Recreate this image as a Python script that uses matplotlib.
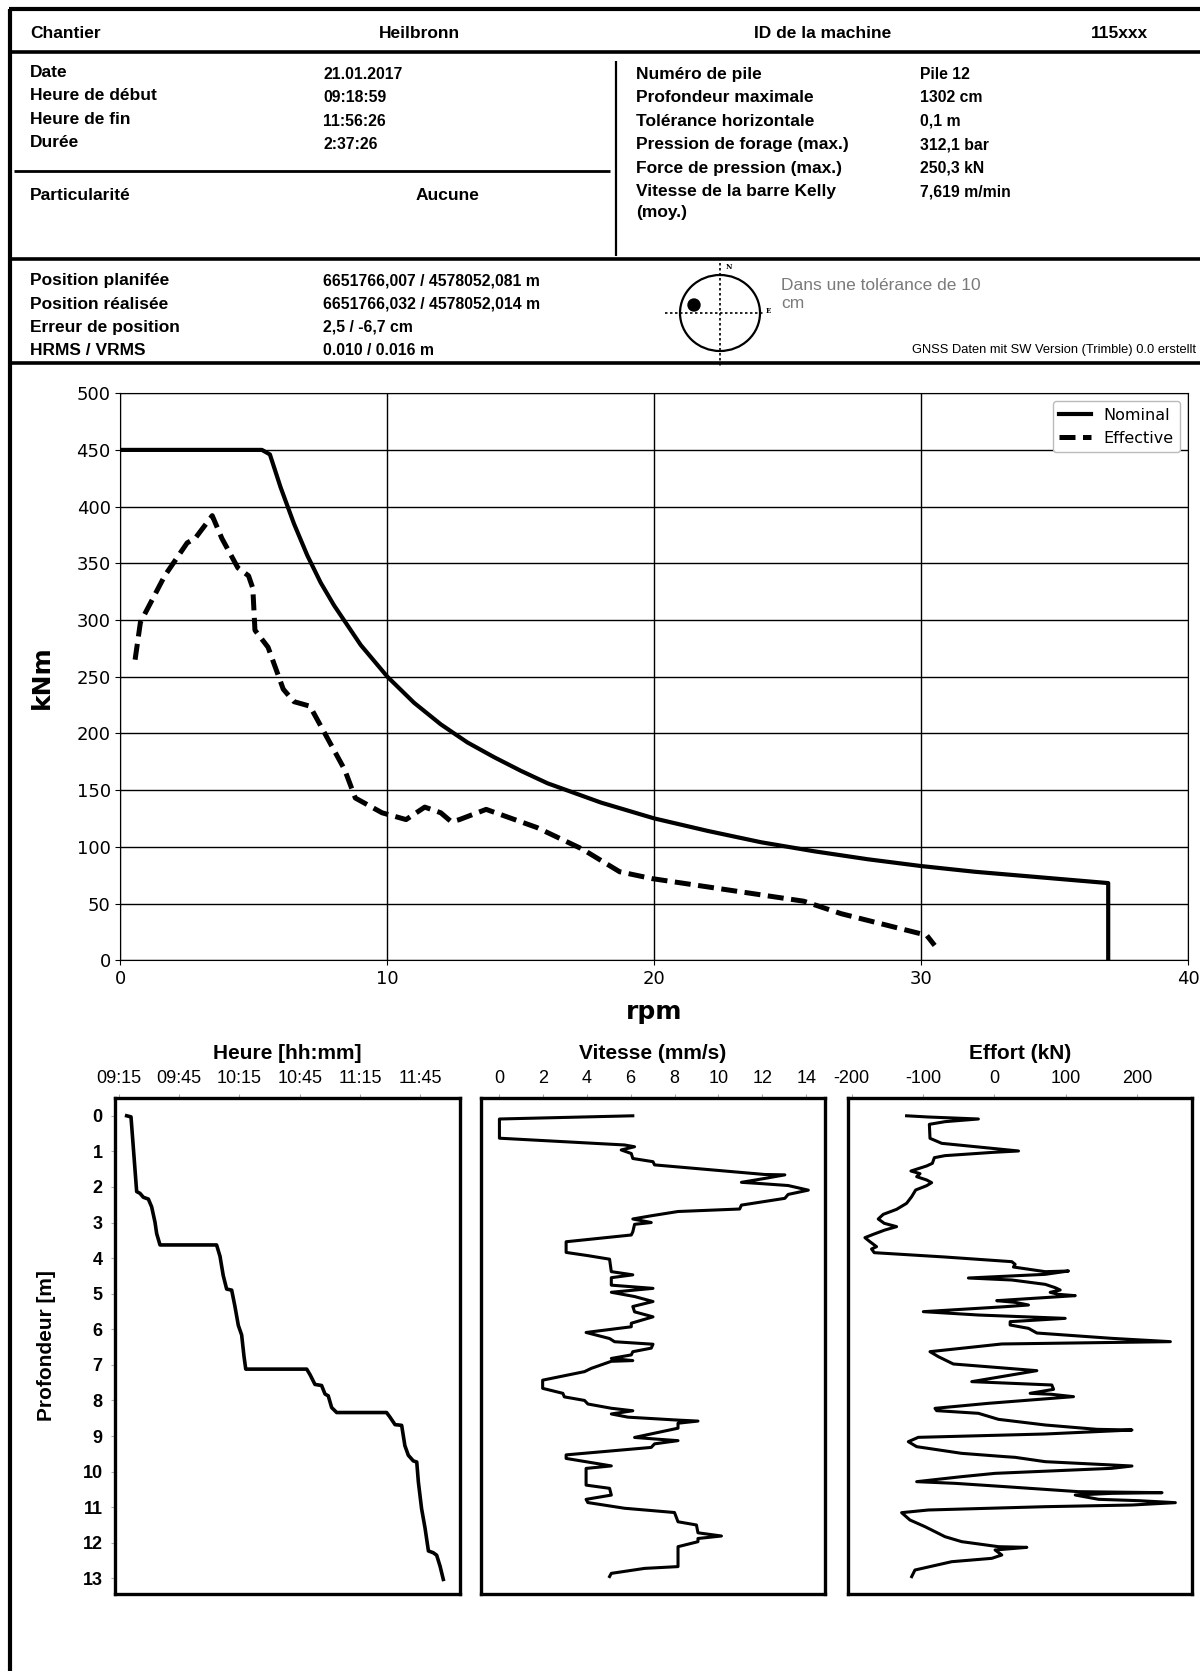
import matplotlib
matplotlib.use("Agg")
import matplotlib.pyplot as plt
from matplotlib import font_manager
from matplotlib.patches import Ellipse, Circle

# ---------------- data ----------------
site_label, site_value = "Chantier", "Heilbronn"
machine_label, machine_value = "ID de la machine", "115xxx"
left_labels = ["Date", "Heure de début", "Heure de fin", "Durée"]
left_values = ["21.01.2017", "09:18:59", "11:56:26", "2:37:26"]
special_label, special_value = "Particularité", "Aucune"
right_labels = ["Numéro de pile", "Profondeur maximale", "Tolérance horizontale",
                "Pression de forage (max.)", "Force de pression (max.)",
                "Vitesse de la barre Kelly", "(moy.)"]
right_values = ["Pile 12", "1302 cm", "0,1 m", "312,1 bar", "250,3 kN", "7,619 m/min"]
pos_labels = ["Position planifée", "Position réalisée", "Erreur de position", "HRMS / VRMS"]
pos_values = ["6651766,007 / 4578052,081 m", "6651766,032 / 4578052,014 m",
              "2,5 / -6,7 cm", "0.010 / 0.016 m"]
tol_text = "Dans une tolérance de 10\ncm"
gnss_text = "GNSS Daten mit SW Version (Trimble) 0.0 erstellt"

nominal_rpm = [0, 5.3, 5.6, 6, 6.5, 7, 7.5, 8, 9, 10, 11, 12, 13, 14, 15, 16, 18, 20,
               22, 24, 26, 28, 30, 32, 34, 36, 37, 37]
nominal_knm = [450, 450, 446, 417, 385, 357, 333, 313, 278, 250, 227, 208, 192, 179, 167,
               156, 139, 125, 114, 104, 96, 89, 83, 78, 74, 70, 68, 0]
effective_rpm = [0.55, 0.75, 1.66, 2.5, 2.8, 3.44, 3.8, 4.4, 4.8, 4.96, 5.04, 5.53, 6.1,
                 6.5, 7.1, 8.4, 8.8, 9.8, 10.7, 11.4, 12.0, 12.4, 12.7, 13.7, 15.6, 17.3,
                 18.7, 19.9, 25.6, 27.0, 30.2, 30.5]
effective_knm = [265, 298, 339, 368, 372, 392, 372, 346, 339, 328, 291, 276, 239, 228, 224,
                 168, 143, 130, 124, 135, 130, 122, 124, 133, 117, 98, 78, 72, 52, 41, 22, 13]

# minutes after 09:15
time_min = [4.0, 6.15, 8.97, 10.62, 12.28, 14.77, 16.42, 18.08, 18.91, 20.57, 48.7, 50.4,
            52.0, 53.7, 56.2, 57.8, 59.5, 61.16, 62.3, 63.2, 93.5, 95.2, 97.6, 100.9, 102.6,
            104.2, 105.9, 108.4, 133.2, 134.9, 137.4, 140.7, 142.3, 144.0, 146.5, 148.2,
            149.0, 150.6, 152.3, 154.0, 156.4, 158.1, 159.8, 161.4]
time_depth = [0.0, 0.03, 2.13, 2.18, 2.29, 2.34, 2.56, 2.99, 3.31, 3.63, 3.63, 3.95, 4.49,
              4.87, 4.9, 5.35, 5.89, 6.16, 6.75, 7.12, 7.12, 7.28, 7.55, 7.58, 7.82, 7.87,
              8.2, 8.34, 8.34, 8.47, 8.68, 8.7, 9.27, 9.54, 9.7, 9.73, 10.29, 11.04, 11.58,
              12.23, 12.28, 12.35, 12.66, 13.03]
time_ticks = [0, 30, 60, 90, 120, 150]
time_labels = ["09:15", "09:45", "10:15", "10:45", "11:15", "11:45"]

speed = [6.1, 0.02, 0.02, 5.72, 6.18, 5.57, 6.03, 6.1, 7.02, 7.09, 12.12, 13.03, 12.12,
         11.05, 11.81, 13.18, 14.1, 13.18, 13.03, 11.05, 10.97, 8.16, 6.94, 6.1, 6.94, 6.18,
         6.1, 6.03, 3.06, 3.06, 4.05, 5.04, 5.12, 6.1, 5.12, 5.12, 7.02, 5.12, 6.18, 7.02,
         6.1, 6.18, 7.02, 6.03, 6.03, 3.97, 5.04, 5.27, 7.02, 6.94, 6.1, 6.03, 5.12, 6.1,
         5.12, 4.2, 3.9, 1.99, 1.99, 2.91, 2.98, 3.9, 4.05, 5.12, 6.1, 5.12, 5.88, 8.08,
         9.07, 8.16, 8.16, 6.18, 7.25, 8.16, 7.09, 6.94, 3.06, 3.06, 5.12, 3.97, 3.97, 5.04,
         5.12, 3.97, 4.05, 5.72, 8.0, 8.16, 9.0, 9.07, 10.14, 9.07, 9.07, 8.16, 8.16, 6.64,
         5.12, 5.04]
speed_depth = [0.0, 0.09, 0.63, 0.82, 0.87, 0.96, 1.06, 1.2, 1.29, 1.38, 1.65, 1.66, 1.76,
               1.87, 1.9, 1.96, 2.09, 2.21, 2.32, 2.51, 2.62, 2.69, 2.81, 2.9, 3.0, 3.05,
               3.26, 3.35, 3.54, 3.84, 3.93, 4.03, 4.38, 4.47, 4.55, 4.76, 4.85, 4.96, 5.08,
               5.22, 5.36, 5.51, 5.65, 5.83, 5.93, 6.09, 6.26, 6.35, 6.42, 6.53, 6.63, 6.72,
               6.82, 6.88, 6.9, 7.1, 7.19, 7.43, 7.66, 7.8, 7.9, 8.0, 8.1, 8.22, 8.29, 8.38,
               8.47, 8.55, 8.58, 8.64, 8.78, 9.04, 9.09, 9.13, 9.22, 9.32, 9.53, 9.63, 9.84,
               9.91, 10.38, 10.47, 10.66, 10.78, 10.87, 11.03, 11.15, 11.41, 11.5, 11.72,
               11.81, 11.88, 11.97, 12.11, 12.67, 12.72, 12.86, 12.95]
speed_ticks = [0, 2, 4, 6, 8, 10, 12, 14]

force = [-122.9, -92.4, -22.3, -69.1, -91.0, -90.1, -73.7, -3.6, 33.9, -1.2, -69.1, -84.0,
         -86.8, -94.8, -116.8, -104.1, -108.8, -94.8, -87.8, -94.8, -110.2, -115.8, -122.9,
         -136.9, -155.6, -162.6, -154.2, -136.9, -153.3, -169.6, -181.3, -174.3, -165.0,
         -172.0, -168.2, -69.1, 24.5, 29.2, 26.8, 71.3, 104.0, 71.3, -36.3, 24.5, 71.3, 85.3,
         92.3, 78.3, 90.0, 113.4, 3.4, 29.2, 47.9, 15.1, -99.5, -22.3, 99.3, 22.2, 22.2,
         47.9, 59.6, 164.8, 246.7,
         10.5, -90.1, -78.4, -57.4, 1.1, 59.6, -31.6, 80.6, 83.0, 50.2, 80.6, 111.0, 80.6,
         -8.2, -83.1, -80.8, -22.3, 5.8, 71.3, 143.8, 192.9, 71.3, -106.5, -120.5, -108.8,
         -45.7, 15.1, 29.2, 71.3, 164.8, 192.9, 164.8, 1.1, -45.7, -108.8, -55.0, 15.1,
         118.1, 235.0, 164.8, 113.4, 146.1, 202.3, 253.7, 192.9, 71.3, -92.4, -129.9,
         -118.2, -97.1, -83.1, -69.1, -45.7, 5.8, 45.6, 1.1, 10.5, -3.6, -59.7, -111.2,
         -115.8]
force_depth = [0.0, 0.034, 0.09, 0.165, 0.24, 0.633, 0.774, 0.914, 0.989, 1.027, 1.12, 1.177,
               1.336, 1.41, 1.552, 1.626, 1.711, 1.804, 1.879, 1.964, 2.086, 2.273, 2.46,
               2.629, 2.77, 2.9, 3.022, 3.116, 3.21, 3.332, 3.425, 3.538, 3.678, 3.744, 3.847,
               3.969, 4.1, 4.175, 4.25, 4.381, 4.362, 4.456, 4.559, 4.615, 4.737, 4.831,
               4.896, 4.962, 5.018, 5.055, 5.196, 5.243, 5.318, 5.365, 5.505, 5.599, 5.693,
               5.786, 5.88, 5.974, 6.105, 6.255, 6.348,
               6.413, 6.629, 6.769, 6.976, 7.069, 7.163, 7.472, 7.566, 7.688, 7.8, 7.828,
               7.894, 7.941, 8.081, 8.222, 8.287, 8.362, 8.531, 8.69, 8.812, 8.831, 8.943,
               9.037, 9.159, 9.299, 9.487, 9.58, 9.599, 9.721, 9.814, 9.843, 9.908, 10.049,
               10.142, 10.283, 10.33, 10.423, 10.564, 10.592, 10.611, 10.658, 10.779, 10.817,
               10.873, 10.939, 10.986, 11.079, 11.154, 11.36, 11.548, 11.688, 11.829, 11.969,
               12.11, 12.129, 12.203, 12.344, 12.438, 12.532, 12.766, 12.953]
force_ticks = [-200, -100, 0, 100, 200]
force_labels = ["-200", "-100", "0", "100", "200"]
depth_ticks = list(range(0, 14))

# ---------------- figure ----------------
names = {f.name for f in font_manager.fontManager.ttflist}
SANS = "Liberation Sans" if "Liberation Sans" in names else "DejaVu Sans"

W, H = 1200, 1671
fig = plt.figure(figsize=(W / 100, H / 100), dpi=100)
bg = fig.add_axes([0, 0, 1, 1], zorder=0)
bg.set_xlim(0, W)
bg.set_ylim(H, 0)
bg.axis("off")


def hline(y, x0, x1, lw=2.2):
    bg.plot([x0, x1], [y, y], color="black", lw=lw, solid_capstyle="butt")


def vline(x, y0, y1, lw=2.2):
    bg.plot([x, x], [y0, y1], color="black", lw=lw, solid_capstyle="butt")


def txt(x, y, s, size=12.5, weight="bold", ha="left", color="black"):
    return bg.text(x, y, s, fontsize=size, fontweight=weight, family=SANS, ha=ha,
                   va="center", color=color)


# frame and header lines
vline(10, 9, H, lw=3)
hline(9, 9, W, lw=3)
hline(52, 9, W, lw=2.6)
hline(171, 14, 610, lw=2.0)
vline(616, 61, 256, lw=1.6)
hline(259, 9, W, lw=2.6)
hline(363, 9, W, lw=2.6)

# header texts
txt(30, 33, site_label)
txt(419, 33, site_value, ha="center")
txt(823, 33, machine_label, ha="center")
txt(1119, 33, machine_value, ha="center")
for i, (lab, val) in enumerate(zip(left_labels, left_values)):
    y = 72.5 + i * 23.4
    txt(30, y, lab)
    txt(323, y + 2, val, size=11.3)
txt(30, 195, special_label)
txt(448, 195, special_value, ha="center")
for i, lab in enumerate(right_labels):
    y = 74.6 + i * 23.4 if i < 6 else 213
    txt(636, y, lab)
for i, val in enumerate(right_values):
    txt(920, 74.6 + i * 23.4, val, size=11.3)
for i, (lab, val) in enumerate(zip(pos_labels, pos_values)):
    y = 281 + i * 23.2
    txt(30, y, lab)
    txt(323, y, val, size=11.3)
t = txt(781, 294, tol_text, size=12.5, weight="normal", color="#7a7a7a")
t.set_linespacing(1.25)
txt(1196, 350, gnss_text, size=9.3, weight="normal", ha="right")

# tolerance target
bg.add_patch(Ellipse((720, 313), 80, 76, fill=False, ec="black", lw=1.6))
bg.plot([720, 720], [263, 367], color="black", lw=1.2, ls=(0, (1.5, 1.5)))
bg.plot([665, 765], [313, 313], color="black", lw=1.2, ls=(0, (1.5, 1.5)))
bg.add_patch(Circle((694, 305), 6, color="black"))
bg.text(726, 267, "N", fontsize=5, family="DejaVu Serif", fontweight="bold", va="center")
bg.text(766, 311, "E", fontsize=5, family="DejaVu Serif", fontweight="bold", va="center")

# ---------------- main chart ----------------
ax = fig.add_axes([120.4 / W, 1 - 960.2 / H, 1067.9 / W, 567 / H], zorder=1)
ax.plot(nominal_rpm, nominal_knm, color="black", lw=3, label="Nominal",
        solid_joinstyle="round")
ax.plot(effective_rpm, effective_knm, color="black", lw=3.6, ls=(0, (3.2, 1.5)),
        label="Effective")
ax.set_xlim(0, 40)
ax.set_ylim(0, 500)
ax.set_xticks([0, 10, 20, 30, 40])
ax.set_yticks(list(range(0, 501, 50)))
ax.grid(True, color="black", lw=1.0)
ax.tick_params(labelsize=13)
for lab in ax.get_xticklabels() + ax.get_yticklabels():
    lab.set_family("DejaVu Sans")
ax.set_ylabel("kNm", fontsize=18, fontweight="bold", family="DejaVu Sans")
ax.yaxis.set_label_coords(-0.062, 0.5)
ax.set_xlabel("rpm", fontsize=18, fontweight="bold", family="DejaVu Sans")
ax.xaxis.set_label_coords(0.5, -0.07)
leg = ax.legend(loc="upper right", prop={"family": "DejaVu Sans", "size": 11.5},
                framealpha=1, edgecolor="#bbbbbb")

# ---------------- bottom panels ----------------
ptop, pbot = 1098, 1594
prect_y = 1 - pbot / H
prect_h = (pbot - ptop) / H


def panel(x0, x1, xs, ys, xlim, ticks, labels, title, lw):
    a = fig.add_axes([x0 / W, prect_y, (x1 - x0) / W, prect_h], zorder=1)
    a.plot(xs, ys, color="black", lw=lw, solid_joinstyle="round")
    a.set_xlim(*xlim)
    a.set_ylim(13.44, -0.5)
    a.xaxis.tick_top()
    a.set_xticks(ticks)
    a.set_xticklabels(labels, fontsize=13, family=SANS)
    a.tick_params(axis="x", length=3, width=0.8, color="#aaaaaa", pad=5)
    a.set_title(title, fontsize=15, fontweight="bold", family=SANS, pad=8)
    for s in a.spines.values():
        s.set_linewidth(2.4)
    a.set_yticks(depth_ticks)
    return a


a1 = panel(115, 460, time_min, time_depth, (-1.8, 169.7), time_ticks, time_labels,
           "Heure [hh:mm]", 2.6)
a1.set_yticklabels([str(v) for v in depth_ticks], fontsize=13, fontweight="bold",
                   family=SANS)
a1.tick_params(axis="y", length=3, width=0.8, color="#aaaaaa", pad=6)
a1.set_ylabel("Profondeur [m]", fontsize=15, fontweight="bold", family=SANS)
a1.yaxis.set_label_coords(-0.172, 0.5)

a2 = panel(481, 825, speed, speed_depth, (-0.82, 14.86), speed_ticks,
           [str(v) for v in speed_ticks], "Vitesse (mm/s)", 2.2)
a2.tick_params(axis="y", left=False, labelleft=False)

a3 = panel(848, 1192, force, force_depth, (-205, 277), force_ticks, force_labels,
           "Effort (kN)", 2.2)
a3.tick_params(axis="y", left=False, labelleft=False)

fig.savefig("out.png", dpi=100)
